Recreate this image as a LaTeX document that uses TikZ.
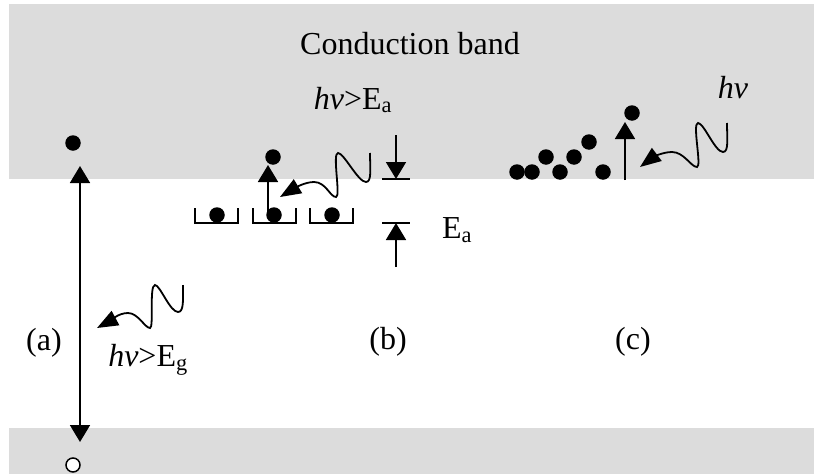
\documentclass[tikz,border=0pt]{standalone}
\usepackage{fontspec}
\setmainfont{Liberation Serif}
\usetikzlibrary{arrows.meta}
\definecolor{gris}{RGB}{220,220,220}

\begin{document}
\begin{tikzpicture}[x=1pt, y=-1pt,
			 electron/.style={circle, fill=black, minimum size=15.5pt, inner sep=0pt},
			 hueco/.style={circle, draw, fill=white, line width=1.5pt, minimum size=14pt, inner sep=0pt},
			 flecha/.style={line width=1.8pt, -{Triangle[length=17pt, width=20pt]}},
			 foton/.style={line width=1.8pt, -{Triangle[length=21pt, width=16pt]}},
			 pozo/.style={line width=1.8pt},
			 texto/.style={font=\fontsize{32}{38}\selectfont, inner sep=0pt}
  		]
	\useasboundingbox (0,0) rectangle (814,474);

	%Bandas de conduccion y de valencia
		\fill[gris] (9,4) rectangle (814,179);
		\fill[gris] (9,428) rectangle (814,474);
		\node[texto] (cb) at (410,44) {Conduction band};

	%Caso (a): transicion banda a banda
		\coordinate (ga) at (80,166);
		\coordinate (gb) at (80,442);
		\draw[line width=1.8pt, {Triangle[length=17pt, width=20pt]}-{Triangle[length=17pt, width=20pt]}] (ga) -- (gb);
		\node[electron] (ea) at (73,143) {};
		\node[hueco] (ha) at (73,465) {};
		\coordinate (fa0) at (183,285);
		\coordinate (fa1) at (97,328);
		\draw[foton] (fa0) .. controls (183,300) and (184,312) .. (178,312)
			.. controls (170,312) and (160,285) .. (155,285)
			.. controls (149,285) and (154,328) .. (150,328)
			.. controls (145,328) and (138,313) .. (128,313)
			.. controls (118,313) and (110,321) .. (fa1);
		\node[texto] (la) at (44,343) {(a)};
		\node[texto] (ta) at (148,360) {\textit{hν}>E\textsubscript{g}};

	%Caso (b): niveles de impureza
		\draw[pozo] (195,208) -- (195,223) -- (238,223) -- (238,208);
		\draw[pozo] (253,208) -- (253,223) -- (296,223) -- (296,208);
		\draw[pozo] (310,208) -- (310,223) -- (353,223) -- (353,208);
		\coordinate (b0) at (268,214);
		\coordinate (b1) at (268,165);
		\draw[flecha] (b0) -- (b1);
		\node[electron] (eb1) at (217,215) {};
		\node[electron] (eb2) at (274,215) {};
		\node[electron] (eb3) at (332,215) {};
		\node[electron] (eb) at (273,157) {};
		\coordinate (fb0) at (370,153);
		\coordinate (fb1) at (280,197);
		\draw[foton] (fb0) .. controls (370,168) and (372,182) .. (366,182)
			.. controls (358,182) and (344,153) .. (338,153)
			.. controls (332,153) and (341,197) .. (336,197)
			.. controls (330,197) and (326,182) .. (314,182)
			.. controls (305,182) and (295,188) .. (fb1);
	%Cota de E_a
		\coordinate (ea0) at (396,135);
		\coordinate (ea1) at (396,179);
		\coordinate (ea2) at (396,267);
		\coordinate (ea3) at (396,223);
		\draw[flecha] (ea0) -- (ea1);
		\draw[flecha] (ea2) -- (ea3);
		\draw[line width=1.8pt] (382,179) -- (410,179);
		\draw[line width=1.8pt] (382,223) -- (410,223);
		\node[texto] (tb) at (353,100) {\textit{hν}>E\textsubscript{a}};
		\node[texto] (ta2) at (457,230) {E\textsubscript{a}};
		\node[texto] (lb) at (388,342) {(b)};

	%Caso (c): electrones libres
		\node[electron] (ec1) at (517,172) {};
		\node[electron] (ec2) at (532,172) {};
		\node[electron] (ec3) at (546,157) {};
		\node[electron] (ec4) at (560,172) {};
		\node[electron] (ec5) at (574,157) {};
		\node[electron] (ec6) at (589,142) {};
		\node[electron] (ec7) at (603,172) {};
		\node[electron] (ec) at (632,113) {};
		\coordinate (c0) at (625,180);
		\coordinate (c1) at (625,122);
		\draw[flecha] (c0) -- (c1);
		\coordinate (fc0) at (727,123);
		\coordinate (fc1) at (640,167);
		\draw[foton] (fc0) .. controls (727,138) and (729,152) .. (723,152)
			.. controls (715,152) and (704,123) .. (698,123)
			.. controls (692,123) and (702,167) .. (697,167)
			.. controls (691,167) and (684,152) .. (672,152)
			.. controls (662,152) and (652,158) .. (fc1);
		\node[texto] (tc) at (733,88) {\textit{hν}};
		\node[texto] (lc) at (633,342) {(c)};
\end{tikzpicture}
\end{document}
